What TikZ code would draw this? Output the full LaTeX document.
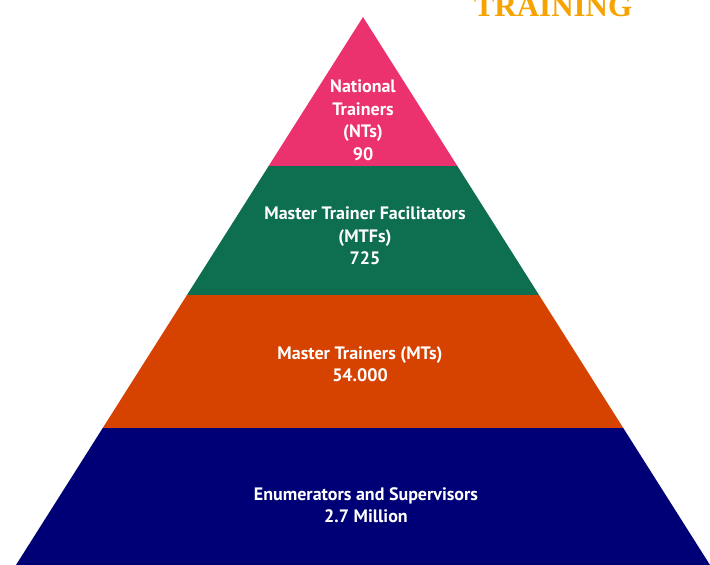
\documentclass[tikz,border=0pt]{standalone}
\usepackage{fontspec}
\setmainfont{Liberation Serif}
\setsansfont{PT Sans}
\usepackage{tikz}
\usetikzlibrary{calc}
\definecolor{ntpink}{RGB}{236,50,110}
\definecolor{mtfgreen}{RGB}{14,110,80}
\definecolor{mtorange}{RGB}{214,66,0}
\definecolor{enumnavy}{RGB}{0,0,118}
\definecolor{titleorange}{RGB}{246,163,0}
\newcommand{\tierLabel}[3]{\node[tier] (#1) at #2 {#3}}

\begin{document}
\begin{tikzpicture}[x=1pt,y=-1pt,
    tier/.style={align=center,text=white,font=\sffamily\bfseries\fontsize{18}{22.5}\selectfont}]
                \useasboundingbox (0,0) rectangle (710,565);
                \coordinate (apex) at (363,17);
                \coordinate (baseL) at (16,565);
                \coordinate (baseR) at (710,565);
                % cut points on the two sides
                \coordinate (l1) at ($(apex)!149/548!(baseL)$);
                \coordinate (r1) at ($(apex)!149/548!(baseR)$);
                \coordinate (l2) at ($(apex)!278/548!(baseL)$);
                \coordinate (r2) at ($(apex)!278/548!(baseR)$);
                \coordinate (l3) at ($(apex)!411/548!(baseL)$);
                \coordinate (r3) at ($(apex)!411/548!(baseR)$);
                \fill[ntpink] (apex) -- (l1) -- (r1) -- cycle;
                \fill[mtfgreen] (l1) -- (l2) -- (r2) -- (r1) -- cycle;
                \fill[mtorange] (l2) -- (l3) -- (r3) -- (r2) -- cycle;
                \fill[enumnavy] (l3) -- (baseL) -- (baseR) -- (r3) -- cycle;
                \tierLabel{nt}{(363,120)}{National\\Trainers\\(NTs)\\90};
                \tierLabel{mtf}{(365,236)}{Master Trainer Facilitators\\(MTFs)\\725};
                \tierLabel{mt}{(360,364)}{Master Trainers (MTs)\\54.000};
                \tierLabel{enum}{(366,505)}{Enumerators and Supervisors\\2.7 Million};
                \node[text=titleorange,font=\rmfamily\bfseries\fontsize{31}{31}\selectfont,anchor=base] (training) at (553,16) {TRAINING};
              \end{tikzpicture}
\end{document}
